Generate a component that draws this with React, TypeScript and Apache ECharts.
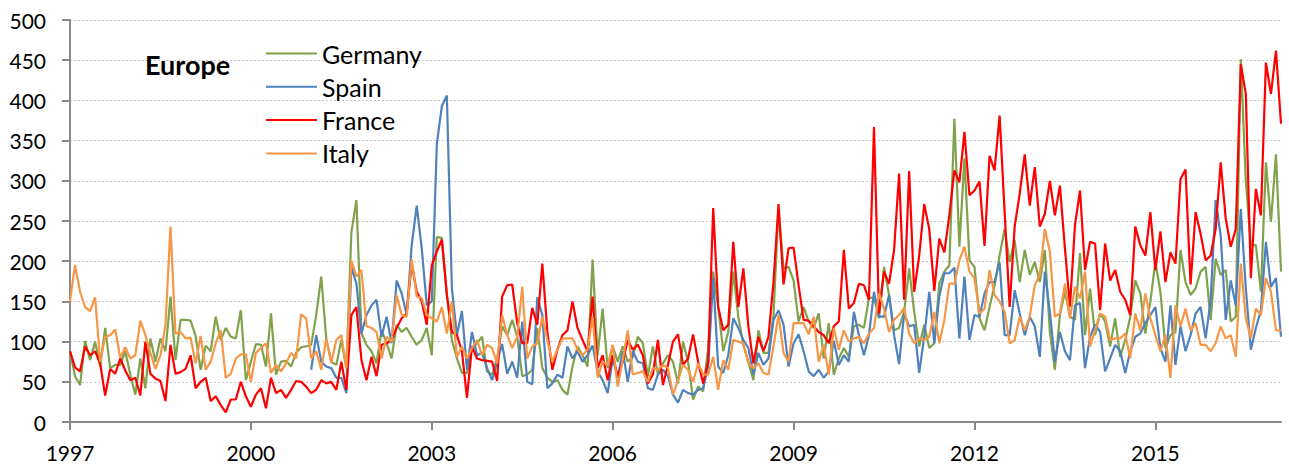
import React, { useEffect, useRef } from "react";
import * as echarts from "echarts";

// Monthly categories: 1997-01 .. 2017-02
const allMonths: string[] = [];
for (let y = 1997; y <= 2017; y++) {
  for (let m = 1; m <= 12; m++) allMonths.push(`${y}-${m < 10 ? "0" + m : m}`);
}
const months = allMonths.slice(0, 242);

const yearTickLabels = ["1997", "2000", "2003", "2006", "2009", "2012", "2015"];

const seriesNames = ["Germany", "Spain", "France", "Italy"];

const germany = [
  88, 57, 46, 101, 77, 100, 69, 117, 67, 71, 71, 88, 59, 34, 79, 42, 104, 75, 104, 88, 156, 77, 127, 127,
  126, 107, 65, 95, 88, 131, 102, 117, 106, 104, 139, 52, 75, 97, 96, 69, 135, 59, 75, 76, 69, 86, 93, 94,
  96, 133, 181, 104, 75, 71, 102, 67, 236, 276, 110, 96, 88, 73, 114, 98, 79, 121, 112, 117, 106, 96, 102, 117,
  83, 230, 229, 158, 102, 79, 61, 61, 92, 98, 106, 63, 59, 79, 119, 108, 127, 106, 57, 59, 65, 117, 67, 55,
  50, 52, 40, 34, 69, 94, 83, 69, 202, 83, 141, 67, 94, 75, 94, 75, 81, 106, 98, 57, 94, 59, 73, 83,
  75, 48, 100, 75, 28, 44, 38, 92, 187, 143, 88, 112, 187, 131, 96, 75, 52, 114, 86, 86, 133, 265, 191, 193,
  176, 125, 143, 125, 117, 135, 79, 123, 59, 79, 92, 81, 119, 121, 117, 154, 155, 129, 193, 158, 114, 117, 137, 191,
  137, 94, 121, 92, 98, 172, 187, 195, 377, 218, 328, 201, 193, 129, 114, 143, 170, 207, 240, 199, 226, 174, 214, 183,
  199, 174, 214, 112, 65, 133, 162, 131, 127, 210, 108, 166, 108, 135, 125, 94, 129, 81, 102, 131, 176, 160, 110, 150,
  199, 162, 92, 108, 112, 214, 174, 158, 166, 187, 193, 127, 203, 183, 189, 125, 131, 451, 300, 220, 220, 162, 323, 249, 333, 187,
];

const spain = [
  null, null, null, null, null, null, null, null, null, null, null, null, null, null, null, null, null, null, null, null, null, null, null, null,
  null, null, null, null, null, null, null, null, null, null, null, null, null, null, null, null, null, null, null, null, null, null, null, null,
  65, 108, 75, 69, 67, 55, 55, 36, 193, 172, 110, 133, 145, 152, 106, 131, 98, 176, 160, 133, 220, 269, 216, 145,
  150, 346, 393, 406, 166, 108, 138, 65, 112, 83, 86, 67, 52, 75, 97, 60, 75, 55, 125, 50, 47, 155, 133, 42,
  48, 59, 55, 94, 79, 88, 75, 83, 95, 63, 52, 36, 79, 55, 88, 50, 88, 75, 73, 42, 40, 59, 65, 57,
  34, 24, 40, 36, 34, 40, 42, 69, 179, 69, 61, 83, 129, 117, 102, 92, 59, 86, 71, 79, 127, 139, 121, 69,
  98, 109, 88, 63, 57, 65, 55, 63, 101, 71, 83, 75, 137, 108, 83, 108, 162, 131, 131, 158, 108, 72, 135, 119,
  121, 61, 106, 162, 98, 156, 185, 185, 192, 104, 181, 102, 133, 131, 160, 174, 174, 199, 108, 108, 164, 135, 108, 131,
  119, 81, 187, 137, 75, 112, 88, 77, 145, 148, 67, 106, 121, 112, 63, 79, 96, 88, 61, 88, 106, 110, 123, 133,
  143, 92, 75, 145, 71, 119, 88, 108, 135, 143, 104, 152, 276, 232, 127, 176, 145, 265, 166, 90, 117, 139, 224, 168, 179, 106,
];

const france = [
  88, 68, 63, 94, 83, 88, 73, 33, 66, 60, 79, 64, 52, 55, 33, 100, 60, 54, 51, 26, 96, 60, 62, 66,
  83, 42, 50, 55, 26, 32, 21, 12, 28, 28, 50, 32, 19, 34, 42, 17, 55, 36, 40, 30, 40, 51, 50, 44,
  36, 40, 52, 48, 50, 40, 75, 40, 133, 143, 77, 52, 81, 57, 96, 98, 102, 117, 129, 135, 197, 162, 150, 121,
  195, 212, 227, 158, 112, 108, 88, 30, 94, 79, 77, 76, 75, 51, 156, 170, 171, 123, 98, 98, 142, 121, 197, 112,
  65, 90, 108, 114, 150, 117, 102, 88, 156, 67, 83, 52, 83, 57, 75, 102, 90, 96, 83, 48, 59, 102, 46, 71,
  100, 109, 71, 79, 109, 75, 48, 75, 266, 143, 114, 121, 224, 143, 191, 119, 73, 106, 88, 106, 174, 271, 171, 216,
  217, 170, 127, 126, 119, 112, 108, 98, 119, 125, 214, 141, 148, 172, 170, 152, 367, 135, 187, 172, 214, 309, 152, 312,
  162, 207, 271, 240, 163, 228, 211, 257, 313, 298, 361, 282, 288, 299, 219, 331, 313, 381, 261, 143, 243, 284, 333, 269,
  317, 243, 259, 300, 257, 294, 216, 143, 245, 288, 189, 224, 222, 139, 222, 176, 189, 162, 152, 133, 243, 220, 207, 261,
  189, 237, 174, 211, 197, 302, 314, 171, 261, 234, 201, 207, 240, 323, 253, 218, 240, 445, 408, 179, 290, 257, 447, 408, 462, 371,
];

const italy = [
  150, 195, 162, 143, 138, 155, 75, 106, 108, 115, 80, 93, 79, 83, 126, 108, 86, 66, 83, 121, 243, 110, 112, 104,
  105, 73, 107, 65, 75, 98, 114, 55, 60, 79, 84, 84, 50, 86, 92, 98, 61, 71, 63, 73, 86, 79, 134, 129,
  79, 88, 65, 104, 73, 102, 108, 67, 201, 181, 189, 119, 117, 112, 79, 106, 100, 158, 133, 131, 203, 156, 154, 133,
  129, 125, 143, 110, 150, 81, 94, 79, 92, 102, 83, 96, 92, 73, 133, 108, 92, 106, 168, 79, 94, 98, 131, 102,
  75, 90, 104, 104, 104, 90, 83, 90, 131, 55, 75, 71, 96, 44, 77, 114, 59, 61, 63, 50, 67, 65, 71, 67,
  34, 52, 71, 65, 50, 73, 59, 59, 81, 40, 77, 65, 102, 100, 98, 73, 67, 73, 61, 59, 94, 133, 86, 75,
  123, 123, 123, 109, 131, 75, 96, 59, 117, 90, 114, 100, 104, 106, 98, 110, 117, 160, 141, 112, 127, 133, 142, 110,
  98, 104, 102, 106, 137, 98, 127, 172, 172, 201, 218, 187, 179, 135, 141, 189, 158, 150, 137, 98, 102, 131, 114, 131,
  170, 183, 240, 212, 131, 135, 172, 129, 168, 154, 187, 94, 114, 135, 131, 102, 104, 104, 110, 79, 135, 114, 160, 129,
  108, 88, 108, 55, 145, 119, 141, 114, 123, 96, 96, 88, 98, 119, 104, 108, 81, 197, 129, 104, 141, 133, 179, 162, 114, 114,
];

const colors = ["#7FA24B", "#4F81BD", "#FF0000", "#F79646"];
const FONT = "Lato, 'Open Sans', sans-serif";
const AXIS_COLOR = "#898989";

const isYearTick = (index: number) => index % 36 === 0;

export default function App() {
  const ref = useRef<HTMLDivElement>(null);

  useEffect(() => {
    if (!ref.current) return;
    const chart = echarts.init(ref.current, undefined, { renderer: "svg" });
    const values = [germany, spain, france, italy];
    chart.setOption({
      animation: false,
      backgroundColor: "#ffffff",
      grid: { left: 70, right: 8, top: 20, bottom: 47 },
      title: {
        text: "Europe",
        left: 145,
        top: 51,
        padding: 0,
        textStyle: { fontFamily: FONT, fontWeight: "bold", fontSize: 27, color: "#000" },
      },
      legend: {
        orient: "vertical",
        left: 266,
        top: 41,
        padding: 0,
        itemWidth: 51,
        itemHeight: 2,
        itemGap: 8.3,
        icon: "rect",
        data: seriesNames,
        textStyle: { fontFamily: FONT, fontSize: 25, color: "#000", lineHeight: 25 },
      },
      xAxis: {
        type: "category",
        data: months,
        boundaryGap: false,
        axisLine: { show: true, lineStyle: { color: AXIS_COLOR, width: 2 } },
        axisTick: {
          show: true,
          interval: (index: number) => isYearTick(index),
          length: 8,
          lineStyle: { color: AXIS_COLOR, width: 2 },
        },
        axisLabel: {
          interval: (index: number) => isYearTick(index),
          formatter: (value: string, index: number) =>
            isYearTick(index) ? yearTickLabels[index / 36] ?? value.slice(0, 4) : "",
          fontFamily: FONT,
          fontSize: 21,
          color: "#000",
          margin: 20,
        },
        splitLine: { show: false },
      },
      yAxis: {
        type: "value",
        min: 0,
        max: 500,
        interval: 50,
        axisLine: { show: true, lineStyle: { color: AXIS_COLOR, width: 2 } },
        axisTick: { show: true, length: 8, lineStyle: { color: AXIS_COLOR, width: 2 } },
        axisLabel: { fontFamily: FONT, fontSize: 21, color: "#000", margin: 24 },
        splitLine: { show: true, lineStyle: { color: "#c6c6c6", width: 1, type: [2, 2] } },
      },
      series: seriesNames.map((name, i) => ({
        name,
        type: "line",
        data: values[i],
        symbol: "none",
        connectNulls: false,
        lineStyle: { color: colors[i], width: 2.2 },
        itemStyle: { color: colors[i] },
        emphasis: { disabled: true },
      })),
    });
    return () => chart.dispose();
  }, []);

  return (
    <div
      ref={ref}
      style={{ position: "fixed", left: 0, top: 0, width: 1289, height: 469, background: "#fff" }}
    />
  );
}
